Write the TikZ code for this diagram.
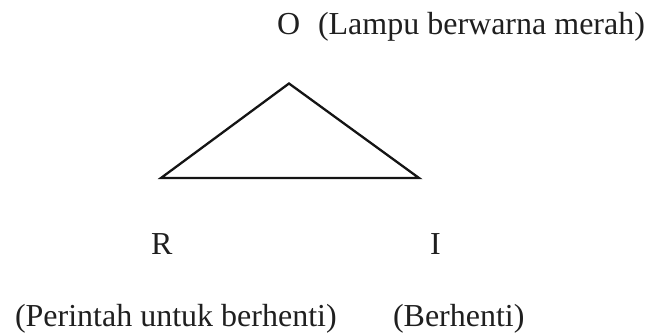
\documentclass[tikz,border=0pt]{standalone}
\usepackage{fontspec}
\setmainfont{Liberation Serif}
\begin{document}
\begin{tikzpicture}[x=1pt,y=1pt,
  lbl/.style={anchor=base west,inner sep=0pt,outer sep=0pt,font=\fontsize{32}{38}\selectfont,text=black!88},
  edge/.style={draw=black!92,line width=2.3pt,line join=miter}]
\useasboundingbox (0,0) rectangle (648,334);
% vertices of the triangle
\coordinate (tO) at (289,250.5);
\coordinate (tR) at (161,156);
\coordinate (tI) at (419,156);
\draw[edge] (tO) -- (tR) -- (tI) -- cycle;
% labels
\node[lbl] (O) at (277,299) {O};
\node[lbl] (Olab) at (318,299) {(Lampu berwarna merah)};
\node[lbl] (R) at (151,79) {R};
\node[lbl] (I) at (430,79) {I};
\node[lbl] (Rlab) at (15,7) {(Perintah untuk berhenti)};
\node[lbl] (Ilab) at (393,7) {(Berhenti)};
\end{tikzpicture}
\end{document}
